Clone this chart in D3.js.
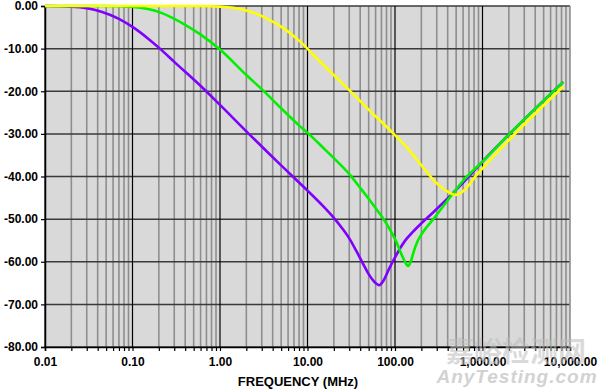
<!DOCTYPE html>
<html>
<head>
<meta charset="utf-8">
<script src="https://cdn.jsdelivr.net/npm/d3@7"></script>
<style>
  body { margin: 0; background: #fff; }
  svg text { font-family: "Liberation Sans", Arial, sans-serif; }
</style>
</head>
<body>
<div id="chart"></div>
<script>
// values (MHz, dB)
var purpleFreq = [0.01, 0.02, 0.03, 0.045, 0.07, 0.1, 0.15, 0.206, 0.3, 0.59, 1.0, 2.0, 5.0, 10, 15, 20, 25, 30.6, 36, 43.5, 50, 58, 66, 74, 85, 100, 114, 130, 160, 200, 274, 553, 1000, 2060, 8375];
var purpleDb   = [0, -0.15, -0.5, -1.4, -3.0, -4.9, -7.6, -10.0, -13.1, -18.6, -23.2, -29.4, -37.4, -43.3, -46.9, -49.7, -52.2, -54.8, -57.4, -60.6, -62.9, -64.7, -65.5, -64.4, -61.8, -59.0, -56.9, -55.1, -53.0, -51.0, -48.4, -42.2, -36.5, -29.9, -17.8];

var greenFreq = [0.01, 0.05, 0.1, 0.15, 0.206, 0.293, 0.4, 0.59, 1.0, 2.0, 3.1, 5.0, 8.3, 10.7, 15, 20, 30.6, 39.8, 50, 62, 73.6, 85, 104, 120, 135, 142, 150, 160, 170, 184, 200, 230, 274, 340, 425, 600, 1000, 2060, 8375];
var greenDb   = [0, 0, -0.2, -0.7, -1.5, -2.9, -4.4, -6.6, -10.2, -16.2, -19.8, -24.0, -28.3, -30.3, -33.2, -35.7, -39.6, -42.6, -45.2, -47.8, -49.9, -52.0, -55.4, -58.5, -60.6, -61.0, -60.2, -58.3, -56.6, -54.9, -53.6, -51.9, -50.0, -47.5, -44.9, -41.0, -36.5, -29.9, -17.8];

var yellowFreq = [0.01, 0.59, 1.0, 1.42, 2.19, 3.4, 5.3, 8.2, 12.7, 20, 30.6, 50, 100, 148, 190, 230, 300, 390, 450, 485, 540, 620, 719, 859, 1000, 2060, 8375];
var yellowDb   = [0, 0, -0.15, -0.4, -1.3, -2.9, -5.2, -8.3, -12.2, -16.2, -19.9, -24.3, -30.3, -34.0, -36.8, -38.9, -41.6, -43.4, -44.1, -44.3, -44.1, -43.2, -41.7, -39.6, -38.1, -31.2, -18.9];

var xTickValues = [0.01, 0.1, 1, 10, 100, 1000, 10000];
var xTickLabels = ["0.01", "0.10", "1.00", "10.00", "100.00", "1,000.00", "10,000.00"];
var yTickValues = [0, -10, -20, -30, -40, -50, -60, -70, -80];
var yTickLabels = ["0.00", "-10.00", "-20.00", "-30.00", "-40.00", "-50.00", "-60.00", "-70.00", "-80.00"];

var width = 600, height = 392;
var margin = {top: 6, right: 30, bottom: 45, left: 45};
var plotW = width - margin.left - margin.right,
    plotH = height - margin.top - margin.bottom;

var svg = d3.select("#chart").append("svg")
    .attr("width", width)
    .attr("height", height);

var x = d3.scaleLog().domain([0.01, 10000]).range([0, plotW]);
var y = d3.scaleLinear().domain([-80, 0]).range([plotH, 0]);

var g = svg.append("g").attr("transform", "translate(" + margin.left + "," + margin.top + ")");

g.append("rect")
    .attr("width", plotW)
    .attr("height", plotH)
    .attr("fill", "#d9d9d9");

// minor vertical grid
var minor = [];
for (var d = -2; d < 4; d++) {
  for (var k = 2; k <= 9; k++) minor.push(k * Math.pow(10, d));
}
g.selectAll(".minor").data(minor).enter().append("line")
    .attr("x1", function(v) { return x(v); })
    .attr("x2", function(v) { return x(v); })
    .attr("y1", 0).attr("y2", plotH)
    .attr("stroke", "#8e8e8e").attr("stroke-width", 1.6);

// horizontal grid
g.selectAll(".hgrid").data(yTickValues).enter().append("line")
    .attr("x1", 0).attr("x2", plotW)
    .attr("y1", function(v) { return y(v); })
    .attr("y2", function(v) { return y(v); })
    .attr("stroke", "#3a3a3a").attr("stroke-width", 1.5);

// decade lines
g.selectAll(".major").data(xTickValues).enter().append("line")
    .attr("x1", function(v) { return x(v); })
    .attr("x2", function(v) { return x(v); })
    .attr("y1", 0).attr("y2", plotH)
    .attr("stroke", function(v) { return v == 10000 ? "#8e8e8e" : "#000"; })
    .attr("stroke-width", function(v) { return v == 10000 ? 1.6 : 1.2; });

// axes
var xAxis = d3.axisBottom(x)
    .tickValues(xTickValues.concat(minor))
    .tickSize(4)
    .tickFormat(function(v) {
      var i = xTickValues.indexOf(v);
      return i >= 0 ? xTickLabels[i] : "";
    });
var yAxis = d3.axisLeft(y)
    .tickValues(yTickValues)
    .tickSize(4)
    .tickFormat(function(v, i) { return yTickLabels[i]; });

var gx = g.append("g").attr("transform", "translate(0," + plotH + ")").call(xAxis);
gx.select(".domain").attr("stroke", "#000").attr("stroke-width", 1.5);
gx.selectAll(".tick line").attr("stroke", "#000").attr("stroke-width", 1.2);
gx.selectAll("text").attr("dy", "1.0em")
    .attr("font-size", 12).attr("font-weight", "bold").attr("fill", "#000");

var gy = g.append("g").call(yAxis);
gy.select(".domain").attr("stroke", "#000").attr("stroke-width", 1.5);
gy.selectAll(".tick line").attr("stroke", "#000").attr("stroke-width", 1.2);
gy.selectAll("text").attr("x", -7)
    .attr("font-size", 12).attr("font-weight", "bold").attr("fill", "#000");

// curves
var line = d3.line()
    .x(function(p) { return x(p[0]); })
    .y(function(p) { return y(p[1]); })
    .curve(d3.curveMonotoneX);

var series = [
  {freq: purpleFreq, db: purpleDb, color: "#7f00ff"},
  {freq: greenFreq, db: greenDb, color: "#00f000"},
  {freq: yellowFreq, db: yellowDb, color: "#ffff00"}
];
series.forEach(function(s) {
  g.append("path")
      .datum(d3.zip(s.freq, s.db))
      .attr("fill", "none")
      .attr("stroke", s.color)
      .attr("stroke-width", 2.6)
      .attr("stroke-linejoin", "round")
      .attr("d", line);
});

// axis title
svg.append("text")
    .attr("x", 298).attr("y", 386)
    .attr("text-anchor", "middle")
    .attr("font-size", 13).attr("font-weight", "bold")
    .text("FREQUENCY (MHz)");

// watermark
svg.append("text")
    .attr("x", 516).attr("y", 362)
    .attr("text-anchor", "middle")
    .attr("font-size", 28).attr("font-weight", "bold")
    .attr("fill", "#bdbdbd").attr("opacity", 0.55)
    .style("font-family", "'Noto Sans CJK SC', sans-serif")
    .text("嘉峪检测网");
svg.append("text")
    .attr("x", 517).attr("y", 383)
    .attr("text-anchor", "middle")
    .attr("font-size", 19).attr("font-weight", "bold").attr("font-style", "italic")
    .attr("fill", "#c4c4c4").attr("opacity", 0.75)
    .attr("letter-spacing", 1)
    .text("AnyTesting.com");
</script>
</body>
</html>
